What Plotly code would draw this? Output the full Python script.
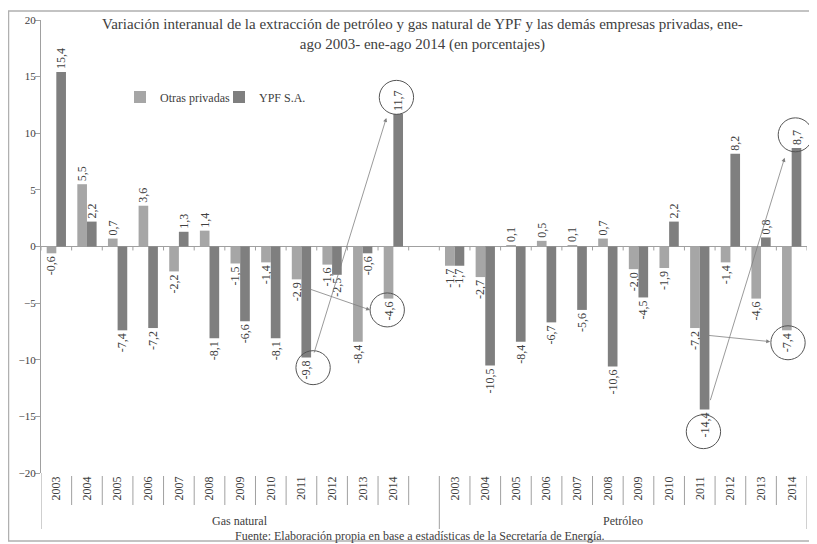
import plotly.graph_objects as go

# ---------------- data ----------------
years = ["2003", "2004", "2005", "2006", "2007", "2008", "2009", "2010", "2011", "2012", "2013", "2014"]
groups = ["Gas natural", "Petróleo"]

gas_otras = [-0.6, 5.5, 0.7, 3.6, -2.2, 1.4, -1.5, -1.4, -2.9, -1.6, -8.4, -4.6]
gas_ypf = [15.4, 2.2, -7.4, -7.2, 1.3, -8.1, -6.6, -8.1, -9.8, -2.5, -0.6, 11.7]
pet_otras = [-1.7, -2.7, 0.1, 0.5, 0.1, 0.7, -2.0, -1.9, -7.2, -1.4, -4.6, -7.4]
pet_ypf = [-1.7, -10.5, -8.4, -6.7, -5.6, -10.6, -4.5, 2.2, -14.4, 8.2, 0.8, 8.7]

series_names = ["Otras privadas", "YPF S.A."]
colors = ["#a6a6a6", "#7f7f7f"]

title_text = ("Variación interanual de la extracción de petróleo y gas natural de YPF y las demás empresas privadas, ene-"
              "<br>ago 2003- ene-ago 2014 (en porcentajes)")
source_text = "Fuente: Elaboración propia en base a estadísticas de la Secretaría de Energía."

# category positions: 12 gas slots, one empty slot, 12 petroleum slots
n = len(years)
gas_pos = list(range(n))
pet_pos = [n + 1 + i for i in range(n)]
positions = gas_pos + pet_pos
tick_text = years + years
last = positions[-1]
YMIN, YMAX = -20, 20

def fmt(v):
    return f"{v:.1f}".replace(".", ",")

FONT = "Liberation Serif"
TXT = "#404040"

fig = go.Figure()
for name, color, vals in [
    (series_names[0], colors[0], gas_otras + pet_otras),
    (series_names[1], colors[1], gas_ypf + pet_ypf),
]:
    fig.add_trace(go.Bar(
        x=positions, y=vals, name=name,
        marker=dict(color=color, line=dict(width=0)),
        text=[fmt(v) for v in vals], textposition="outside", textangle=-90,
        textfont=dict(family=FONT, size=12, color=TXT),
        constraintext="none", cliponaxis=False,
    ))

# ---------------- layout ----------------
OFF = 8  # page body margin
W, H = 809, 536
L, R, T, B = 33, 10, 12, 71
pw, ph = W - L - R, H - T - B

def py2paper(py):  # window pixel -> paper y
    return (H - B - (py - OFF)) / ph

def px2paper(px):  # window pixel -> paper x
    return (px - OFF - L) / pw

def dx2paper(x):  # data x -> paper
    return (x + 0.5) / (last + 1)

def dy2paper(y):
    return (y - YMIN) / (YMAX - YMIN)

grey = "#a0a0a0"
shapes = []
# short separators between year labels
for p in positions[:-1]:
    if p + 1 in positions or p == gas_pos[-1]:
        shapes.append(dict(type="line", xref="x", yref="paper", x0=p + 0.5, x1=p + 0.5,
                           y0=py2paper(476), y1=py2paper(505), line=dict(color=grey, width=1)))
# long group separators
for xv in [-0.5, pet_pos[0] - 0.5, last + 0.5]:
    shapes.append(dict(type="line", xref="x", yref="paper", x0=xv, x1=xv,
                       y0=0 if xv == -0.5 else py2paper(476), y1=py2paper(529),
                       line=dict(color=grey, width=1)))
# small ticks on the zero line at category boundaries
for k in range(last + 2):
    xv = k - 0.5
    shapes.append(dict(type="line", xref="x", yref="y", x0=xv, x1=xv, y0=0, y1=-0.35,
                       line=dict(color=grey, width=1)))
# outer frame
shapes.append(dict(type="rect", xref="paper", yref="paper",
                   x0=px2paper(8.5), x1=px2paper(815.5),
                   y0=py2paper(541), y1=py2paper(11),
                   line=dict(color="#b0b0b0", width=1.5), layer="above"))

# circles around highlighted labels (centre in data coords)
def circle(xc, yc, rx=0.56, ry=1.5):
    return dict(type="circle", xref="paper", yref="paper",
                x0=dx2paper(xc - rx), x1=dx2paper(xc + rx),
                y0=dy2paper(yc - ry), y1=dy2paper(yc + ry),
                line=dict(color="#555555", width=1))

shapes += [
    circle(gas_pos[11] + 0.1, gas_ypf[11] + 1.47),
    circle(gas_pos[11] - 0.2, gas_otras[11] - 1.0),
    circle(gas_pos[8] + 0.38, gas_ypf[8] - 0.9),
    circle(pet_pos[8] + 0.12, pet_ypf[8] - 1.95),
    circle(pet_pos[11] + 0.12, pet_ypf[11] + 1.16),
    circle(pet_pos[11] - 0.12, pet_otras[11] - 1.1),
]

annotations = []
# group labels
group_centres = [(gas_pos[0] + pet_pos[0] - 1) / 2, (pet_pos[0] + pet_pos[-1]) / 2]
for g, xc in zip(groups, group_centres):
    annotations.append(dict(x=xc, y=py2paper(521), xref="x", yref="paper", yanchor="middle",
                            text=g, showarrow=False, font=dict(family=FONT, size=12, color=TXT)))
annotations.append(dict(x=px2paper(420), y=py2paper(536), xref="paper", yref="paper",
                        xanchor="center", yanchor="middle",
                        text=source_text, showarrow=False, font=dict(family=FONT, size=12, color=TXT)))
annotations.append(dict(x=px2paper(422), y=py2paper(35), xref="paper", yref="paper",
                        xanchor="center", yanchor="middle",
                        text=title_text, showarrow=False, font=dict(family=FONT, size=15, color=TXT)))

# arrows
def arrow(x0, y0, x1, y1):
    return dict(x=x1, y=y1, ax=x0, ay=y0, xref="x", yref="y", axref="x", ayref="y",
                showarrow=True, arrowhead=2, arrowsize=1, arrowwidth=0.8, arrowcolor="#808080", text="")

annotations += [
    arrow(gas_pos[8] + 0.4, gas_ypf[8] + 0.3, gas_pos[11] - 0.23, gas_ypf[11] - 0.35),
    arrow(gas_pos[8] + 0.17, gas_otras[8] - 0.76, gas_pos[11] - 0.76, gas_otras[11] - 1.0),
    arrow(pet_pos[8] + 0.33, pet_ypf[8] + 0.7, pet_pos[11] - 0.23, pet_ypf[11] - 0.87),
    arrow(pet_pos[8] + 0.1, pet_otras[8] - 0.6, pet_pos[11] - 0.7, pet_otras[11] - 1.0),
]

fig.update_layout(
    width=W, height=H,
    margin=dict(l=L, r=R, t=T, b=B, autoexpand=False),
    paper_bgcolor="white", plot_bgcolor="white",
    barmode="group", bargap=0.37, bargroupgap=0,
    showlegend=True,
    legend=dict(orientation="h", x=px2paper(120), y=py2paper(97), yanchor="middle", xanchor="left",
                font=dict(family=FONT, size=12, color=TXT), itemwidth=30,
                entrywidth=54, entrywidthmode="pixels",
                bgcolor="rgba(0,0,0,0)", traceorder="normal"),
    font=dict(family=FONT, size=11, color=TXT),
    shapes=shapes, annotations=annotations,
    xaxis=dict(range=[-0.5, last + 0.5], tickmode="array", tickvals=positions, ticktext=tick_text,
               tickangle=-90, ticks="", showgrid=False, zeroline=False, showline=False,
               tickfont=dict(family=FONT, size=12, color=TXT)),
    yaxis=dict(range=[YMIN, YMAX], dtick=5, tick0=0, ticks="outside", ticklen=5, tickcolor=grey,
               showgrid=False, zeroline=True, zerolinecolor=grey, zerolinewidth=1,
               showline=True, linecolor=grey, linewidth=1, ticklabelstandoff=-3,
               tickfont=dict(family=FONT, size=11, color=TXT)),
)

fig.write_html("out.html")
